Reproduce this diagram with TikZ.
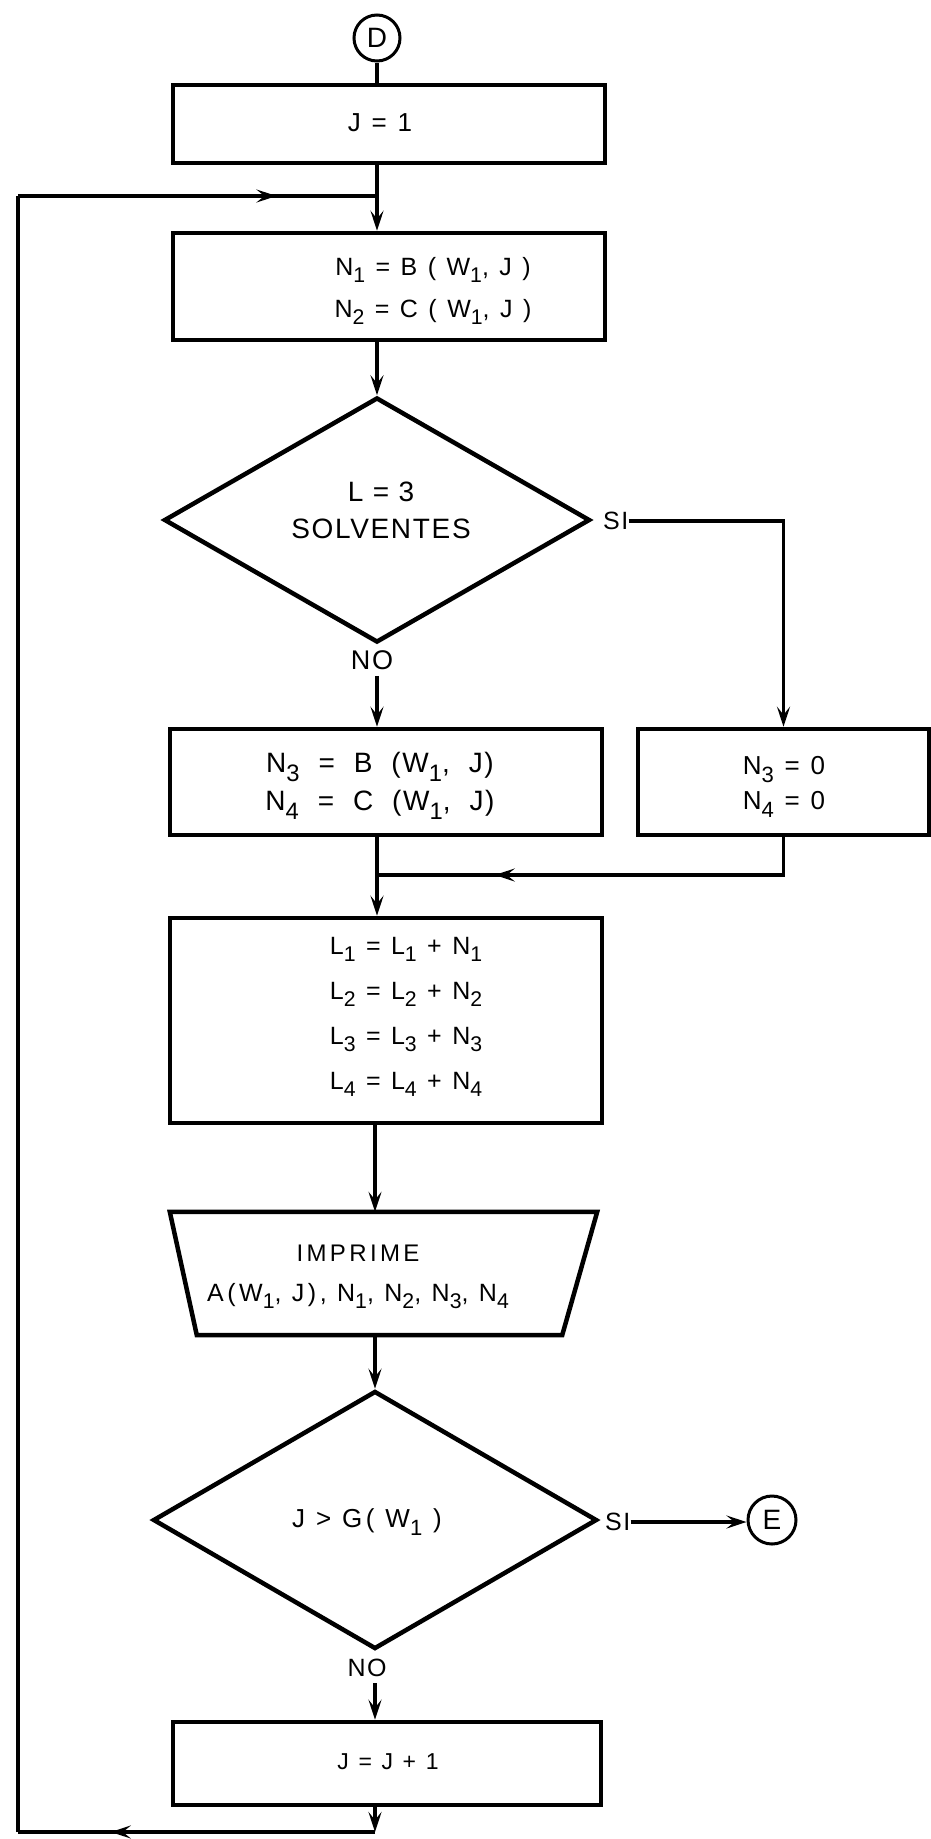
\documentclass[tikz,border=0pt]{standalone}
\usepackage{fontspec}
\setmainfont{Liberation Sans}[LetterSpace=14]
\usetikzlibrary{shapes.geometric,arrows.meta,decorations.markings,calc}
\newcommand{\sbs}[1]{\raisebox{-0.3em}{\scalebox{0.85}{#1}}}
\newcommand{\fs}[2]{\fontsize{#1}{#2}\selectfont}
\newcommand{\tight}{\addfontfeatures{LetterSpace=6}}
\begin{document}
\begin{tikzpicture}[x=1pt,y=-1pt,
  >={Stealth[length=20pt,width=13pt,inset=8pt]},
  box/.style={draw,line width=4.5pt,rectangle,inner sep=0pt},
  dec/.style={draw,line width=4.5pt,diamond,inner sep=0pt},
  conn/.style={line width=3.5pt},
  txt/.style={align=center,inner sep=0pt},
  circ/.style={draw,circle,line width=3pt,minimum size=46pt,inner sep=0pt,font=\fs{28}{30}\tight},
  lbl/.style={inner sep=0pt},
  midarr/.style={postaction={decorate},decoration={markings,mark=at position #1 with {\arrow{>}}}}]
\useasboundingbox (0,0) rectangle (931,1839);
% nodes
\node[circ] (D) at (377,38) {D};
\node[box,minimum width=432pt,minimum height=78pt] (j1) at (389,124) {};
\node[txt,font=\fs{26}{30}] (j1t) at (380,123) {J = 1};
\node[box,minimum width=432pt,minimum height=107pt] (n12) at (389,286.5) {};
\node[txt,font=\fs{25}{42}] (n12t) at (433,291) {N\sbs{1} = B ( W\sbs{1}, J )\\N\sbs{2} = C ( W\sbs{1}, J )};
\node[dec,minimum width=426pt,minimum height=245pt] (dec1) at (377,520) {};
\node[txt,font=\fs{28}{37}\tight] (dec1t) at (381,510) {L = 3\\SOLVENTES};
\node[lbl,anchor=west,font=\fs{25}{30}\tight] (si1) at (603,521) {SI};
\node[lbl,font=\fs{27}{30}\tight] (no1) at (372,660) {NO};
\node[box,minimum width=432pt,minimum height=106pt] (n34) at (386,782) {};
\node[txt,font=\fs{28}{38}\tight] (n34t) at (380,786) {N\sbs{3} \ = \ B \ (W\sbs{1}, \ J)\\N\sbs{4} \ = \ C \ (W\sbs{1}, \ J)};
\node[box,minimum width=291pt,minimum height=106pt] (n34z) at (783.5,782) {};
\node[txt,font=\fs{26}{35}] (n34zt) at (784,787) {N\sbs{3} = 0\\N\sbs{4} = 0};
\node[box,minimum width=432pt,minimum height=205pt] (L) at (386,1020.5) {};
\node[txt,font=\fs{25}{45}] (Lt) at (406,1017) {L\sbs{1} = L\sbs{1} + N\sbs{1}\\L\sbs{2} = L\sbs{2} + N\sbs{2}\\L\sbs{3} = L\sbs{3} + N\sbs{3}\\L\sbs{4} = L\sbs{4} + N\sbs{4}};
\node[inner sep=0pt,minimum width=427pt,minimum height=123pt] (imp) at (383.5,1273.5) {};
\draw[line width=4.5pt,line join=miter] (imp.north west) -- (imp.north east) -- ($(imp.south east)+(-35,0)$) -- ($(imp.south west)+(27,0)$) -- cycle;
\node[txt,font=\fs{25}{40}] (impt) at (358,1277) {{\fs{24}{40}IMPRIME}\\A(W\sbs{1}, J), N\sbs{1}, N\sbs{2}, N\sbs{3}, N\sbs{4}};
\node[dec,minimum width=444pt,minimum height=258pt] (dec2) at (375,1520) {};
\node[txt,font=\fs{26}{30}] (dec2t) at (367,1522) {J > G( W\sbs{1} )};
\node[lbl,anchor=west,font=\fs{25}{30}\tight] (si2) at (605,1522) {SI};
\node[circ,minimum size=48pt] (E) at (772,1520) {E};
\node[lbl,font=\fs{25}{30}\tight] (no2) at (367,1668) {NO};
\node[box,minimum width=428pt,minimum height=83pt] (jj) at (387,1763.5) {};
\node[txt,font=\fs{23}{30}] (jjt) at (388,1762) {J = J + 1};
% coordinates
\coordinate (no1b) at ($(no1.south)+(0,6)$);
\coordinate (no2b) at ($(no2.south)+(0,6)$);
\coordinate (mj) at (377,875);
\coordinate (bj) at (375,1832);
\coordinate (lb) at (18,1832);
\coordinate (lt) at (18,196);
\coordinate (jn) at (377,196);
% connectors
\draw[conn] (D.south) -- (D.south |- j1.north);
\draw[conn,->] (j1.south -| D.south) -- (n12.north -| D.south);
\draw[conn,->] (n12.south -| D.south) -- (dec1.north);
\draw[conn,->] (si1.east) -| (n34z.north);
\draw[conn,->] (no1b -| dec1.south) -- (n34.north -| dec1.south);
\draw[conn,->] (n34.south -| dec1.south) -- (L.north -| dec1.south);
\draw[conn,midarr=0.735] (n34z.south) |- (mj);
\draw[conn,->] (L.south -| dec2.north) -- (imp.north -| dec2.north);
\draw[conn,->] (imp.south -| dec2.north) -- (dec2.north);
\draw[conn,->] (si2.east) -- (si2.east -| E.west);
\draw[conn,->] (no2b -| dec2.south) -- (jj.north -| dec2.south);
\draw[conn,->] (jj.south -| bj) -- (bj);
\draw[conn,midarr=0.74] (bj) -- (lb);
\draw[conn] (lb) -- (lt);
\draw[conn,midarr=0.72] (lt) -- (jn);
\end{tikzpicture}
\end{document}
